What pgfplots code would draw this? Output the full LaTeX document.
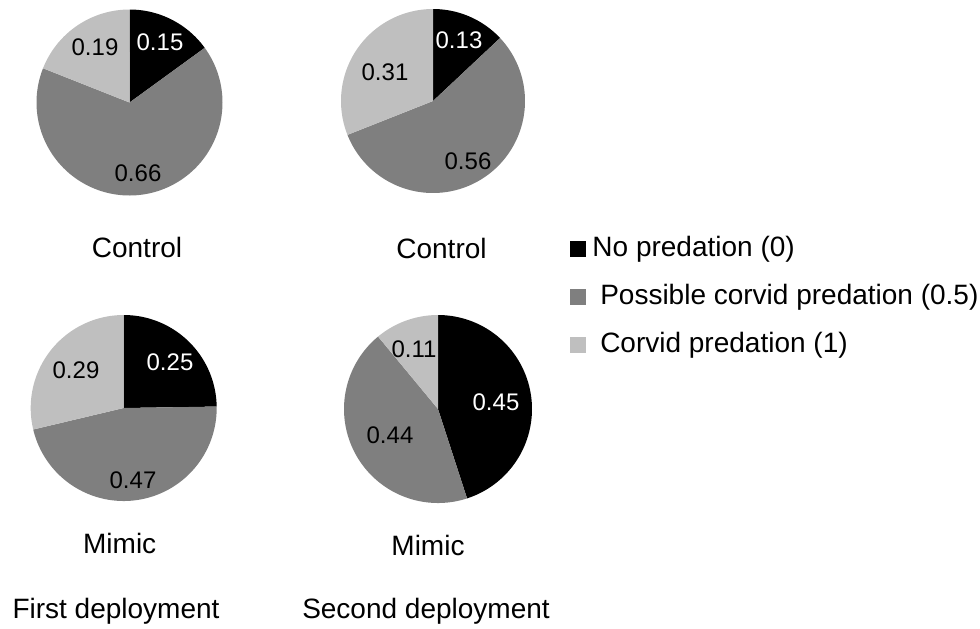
\documentclass[border=0pt]{standalone}
\usepackage{pgfplots}
\pgfplotsset{compat=1.18}
\usepackage{fontspec}
\setmainfont{Liberation Sans}
\definecolor{pgray}{HTML}{7F7F7F}
\definecolor{plight}{HTML}{BFBFBF}
% #1 cx, #2 cy, #3 no predation, #4 possible, #5 corvid, #6 radius
\newcommand{\pie}[6]{%
  \addplot[fill=black, draw=none, mark=none, domain={0}:{360*#3/(#3+#4+#5)}, samples=80, variable=\t]
    ({#1+#6*sin(\t)}, {#2-#6*cos(\t)}) -- (axis cs:#1,#2) -- cycle;
  \addplot[fill=pgray, draw=none, mark=none, domain={360*#3/(#3+#4+#5)}:{360*(#3+#4)/(#3+#4+#5)}, samples=120, variable=\t]
    ({#1+#6*sin(\t)}, {#2-#6*cos(\t)}) -- (axis cs:#1,#2) -- cycle;
  \addplot[fill=plight, draw=none, mark=none, domain={360*(#3+#4)/(#3+#4+#5)}:{360}, samples=80, variable=\t]
    ({#1+#6*sin(\t)}, {#2-#6*cos(\t)}) -- (axis cs:#1,#2) -- cycle;
}
\begin{document}
\begin{tikzpicture}[font=\fontsize{14}{17}\selectfont]
\begin{axis}[
  x=0.5pt, y=0.5pt,
  xmin=0, xmax=980, ymin=0, ymax=628,
  y dir=reverse,
  hide axis, clip=false,
  legend style={
    at={(0.5816,0.6242)}, anchor=north west,
    draw=none, fill=none, inner sep=0pt, outer sep=0pt,
    font=\fontsize{14}{17}\selectfont,
    nodes={inner sep=0pt, text height=10pt, text depth=3pt},
    row sep=11pt, column sep=3.35pt,
  },
  legend cell align=left,
]
\addlegendimage{legend image code/.code={\fill[black] (0pt,-3.5pt) rectangle (7.5pt,3.75pt);}}
\addlegendimage{legend image code/.code={\fill[pgray] (0pt,-3.5pt) rectangle (7.5pt,3.75pt);}}
\addlegendimage{legend image code/.code={\fill[plight] (0pt,-3.5pt) rectangle (7.5pt,3.75pt);}}
\legend{No predation (0),\hspace{3.9pt}Possible corvid predation (0.5),\hspace{3.9pt}Corvid predation (1)}

\pie{129.5}{102.5}{0.15}{0.66}{0.19}{93}
\pie{433}{101}{0.13}{0.56}{0.31}{92}
\pie{123.7}{408}{0.25}{0.47}{0.29}{93}
\pie{438}{409}{0.45}{0.44}{0.11}{94}

\path (rel axis cs:0,0) rectangle (rel axis cs:1,1);

\begin{scope}[every node/.style={inner sep=0pt, font=\fontsize{12}{14}\selectfont}]
\node[white] at (axis cs:160,42) {0.15};
\node at (axis cs:95,47) {0.19};
\node at (axis cs:138,173) {0.66};
\node[white] at (axis cs:459,40) {0.13};
\node at (axis cs:385,72) {0.31};
\node at (axis cs:468,161) {0.56};
\node[white] at (axis cs:170,362) {0.25};
\node at (axis cs:76,370) {0.29};
\node at (axis cs:133,480) {0.47};
\node at (axis cs:414,349) {0.11};
\node[white] at (axis cs:496,402) {0.45};
\node at (axis cs:390,435) {0.44};
\end{scope}

\begin{scope}[every node/.style={inner sep=0pt, anchor=base}]
\node at (axis cs:137,257) {Control};
\node at (axis cs:441.5,258) {Control};
\node at (axis cs:119.7,553) {Mimic};
\node at (axis cs:428,555) {Mimic};
\node at (axis cs:116,618) {First deployment};
\node at (axis cs:426,618) {Second deployment};
\end{scope}
\end{axis}
\end{tikzpicture}
\end{document}
